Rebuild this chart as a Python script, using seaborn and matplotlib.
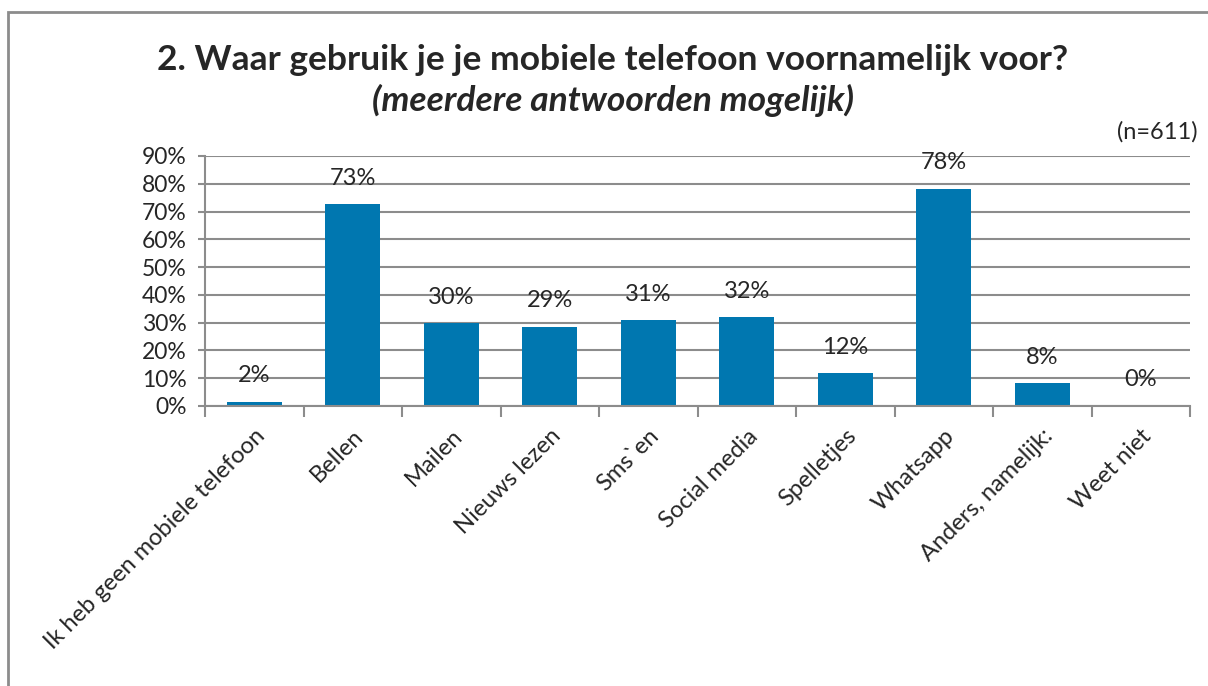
import matplotlib
matplotlib.use("Agg")
import matplotlib.pyplot as plt
import seaborn as sns
import pandas as pd
from matplotlib.patches import Rectangle

categories = ["Ik heb geen mobiele telefoon", "Bellen", "Mailen", "Nieuws lezen",
              "Sms`en", "Social media", "Spelletjes", "Whatsapp",
              "Anders, namelijk:", "Weet niet"]
values = [1.6, 72.6, 29.8, 28.6, 30.9, 32.0, 11.8, 78.3, 8.3, 0.2]
labels = ["2%", "73%", "30%", "29%", "31%", "32%", "12%", "78%", "8%", "0%"]
yticks = [0, 10, 20, 30, 40, 50, 60, 70, 80, 90]

sns.set_theme(style="white")
plt.rcParams['font.family'] = ['Lato', 'DejaVu Sans']

df = pd.DataFrame({"cat": categories, "val": values})

fig = plt.figure(figsize=(12.08, 6.86), dpi=100)
ax = fig.add_axes([205/1208, 1-406/686, (1190-205)/1208, (406-156)/686])

sns.barplot(data=df, x="cat", y="val", color="#0077B0", saturation=1,
            width=0.56, ax=ax, edgecolor="none")

ax.set_ylim(0, 90)
ax.set_xlim(-0.5, len(categories) - 0.5)
ax.set_yticks(yticks)
ax.set_yticklabels([f"{t}%" for t in yticks], fontsize=16.5)
ax.yaxis.grid(True, color="#8c8c8c", linewidth=1.5)
ax.set_axisbelow(True)
ax.set_xlabel("")
ax.set_ylabel("")
for s in ["top", "right"]:
    ax.spines[s].set_visible(False)
for s in ["left", "bottom"]:
    ax.spines[s].set_color("#8c8c8c")
    ax.spines[s].set_linewidth(1.5)

ax.set_xticks(range(len(categories)))
ax.set_xticklabels(categories, rotation=45, ha="right", rotation_mode="anchor",
                   fontsize=17)
ax.tick_params(axis="x", length=0, pad=14)
ax.tick_params(axis="y", left=True, length=5, width=1.5, color="#8c8c8c", pad=8)
# boundary ticks on x axis
ax.set_xticks([i + 0.5 for i in range(-1, len(categories))], minor=True)
ax.tick_params(axis="x", which="minor", bottom=True, length=8, width=1.5,
               color="#8c8c8c")

for i, (v, lab) in enumerate(zip(values, labels)):
    ax.annotate(lab, (i, v), xytext=(0, 11), textcoords="offset points",
                ha="center", va="bottom", fontsize=17)

fig.text(613/1208, 1-60/686, "2. Waar gebruik je je mobiele telefoon voornamelijk voor?",
         ha="center", va="center", fontsize=25.5, fontweight="bold")
fig.text(613/1208, 1-100/686, "(meerdere antwoorden mogelijk)",
         ha="center", va="center", fontsize=25.5, fontweight="bold", style="italic")
fig.text(1198/1208, 1-132/686, "(n=611)", ha="right", va="center", fontsize=17)

fig.patches.append(Rectangle((8/1208, -0.05), 1.1, 1-12/686 + 0.05,
                             transform=fig.transFigure, fill=False,
                             edgecolor="#8c8c8c", linewidth=2))

fig.savefig("out.png", dpi=100)
